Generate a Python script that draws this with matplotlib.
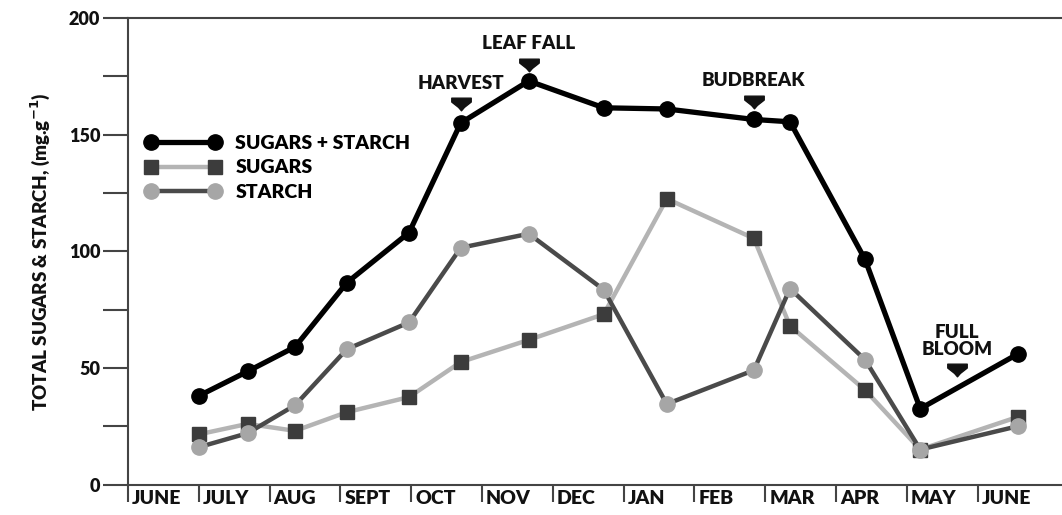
import numpy as np
import matplotlib
matplotlib.use("Agg")
from matplotlib import pyplot as plt
from matplotlib.path import Path
from matplotlib.transforms import ScaledTranslation

plt.rcParams['font.family'] = ['Lato', 'DejaVu Sans']
plt.rcParams['font.weight'] = 'heavy'
W = 'heavy'

# month labels sit right of the boundary ticks (0 = start of JUNE)
months = ["JUNE", "JULY", "AUG", "SEPT", "OCT", "NOV", "DEC",
          "JAN", "FEB", "MAR", "APR", "MAY", "JUNE"]

# sampling dates, in months from start of June
dates = [1.0, 1.69, 2.36, 3.09, 3.97, 4.70, 5.66,
         6.72, 7.61, 8.84, 9.35, 10.41, 11.19, 12.57]

total = [38, 48.5, 59, 86.5, 108, 155, 173, 161.5, 161, 156.5, 155.5, 96.5, 32.5, 56]
sugars = [21.5, 26, 23, 31, 37.5, 52.5, 62, 73, 122.5, 105.5, 68, 40.5, 15, 29]
starch = [16, 22, 34, 58, 69.5, 101.5, 107.5, 83.5, 34.5, 49, 84, 53.5, 15, 25]

# event labels: (text, x in months, y of arrow in mg/g)
events = [("HARVEST", dates[5], 163),
          ("LEAF FALL", dates[6], 180),
          ("BUDBREAK", dates[9], 164),
          ("FULL\nBLOOM", 11.71, 49)]

fig = plt.figure(figsize=(10.62, 5.15), dpi=100)
ax = fig.add_axes([128/1062, 1-484.5/515, 1-128/1062, 466.5/515])

ax.plot(dates, sugars, color='#b4b4b4', lw=3.2, marker='s', ms=10,
        mfc='#3c3c3c', mec='#3c3c3c', label='SUGARS', zorder=3)
ax.plot(dates, starch, color='#4a4a4a', lw=3.2, marker='o', ms=11,
        mfc='#a6a6a6', mec='#a6a6a6', label='STARCH', zorder=4)
ax.plot(dates, total, color='black', lw=3.8, marker='o', ms=11,
        label='SUGARS + STARCH', zorder=5)

# block arrow marker
arrow = Path([(-1, 0.65), (1, 0.65), (1, 0.25), (0.3, -0.3), (0, -0.65),
              (-0.3, -0.3), (-1, 0.25), (-1, 0.65)],
             [Path.MOVETO] + [Path.LINETO] * 6 + [Path.CLOSEPOLY])
for txt, ex, ey in events:
    ax.plot(ex, ey, marker=arrow, ms=14, color='#111111', zorder=6)
    ax.annotate(txt, (ex, ey), xytext=(0, 9), textcoords='offset points',
                ha='center', va='bottom', fontsize=13.5, fontweight=W,
                color='#111111', linespacing=0.95)

ax.set_xlim(0, 934/70.8)
ax.set_ylim(0, 200)

ax.set_yticks(np.arange(0, 201, 25))
ax.set_yticklabels([str(v) if v % 50 == 0 else '' for v in range(0, 201, 25)])
ax.tick_params(axis='y', length=18, width=1.5, color='#444444', pad=2,
               labelsize=13, labelcolor='#111111')

ax.set_xticks(np.arange(len(months)))
ax.set_xticklabels(months, ha='left')
ax.tick_params(axis='x', length=12, width=1.5, color='#444444', pad=-8,
               labelsize=14, labelcolor='#111111')
shift = ScaledTranslation(4/100, 0, fig.dpi_scale_trans)
for lab in ax.get_xticklabels():
    lab.set_transform(lab.get_transform() + shift)

for side in ['left', 'bottom', 'top']:
    ax.spines[side].set_linewidth(1.5)
    ax.spines[side].set_color('#444444')
ax.spines['right'].set_visible(False)

ax.set_ylabel("TOTAL SUGARS & STARCH, (mg.g$^{-1}$)", fontsize=13.5,
              fontweight=W, color='#111111', labelpad=12)

h, l = ax.get_legend_handles_labels()
order = [2, 0, 1]
ax.legend([h[i] for i in order], [l[i] for i in order], loc='upper left',
          bbox_to_anchor=(0.018, 0.75), frameon=False, numpoints=2,
          handlelength=3.9, handletextpad=0.75, labelspacing=0.4,
          borderpad=0, borderaxespad=0, prop={'size': 14, 'weight': W})

fig.savefig("out.png", dpi=100)
